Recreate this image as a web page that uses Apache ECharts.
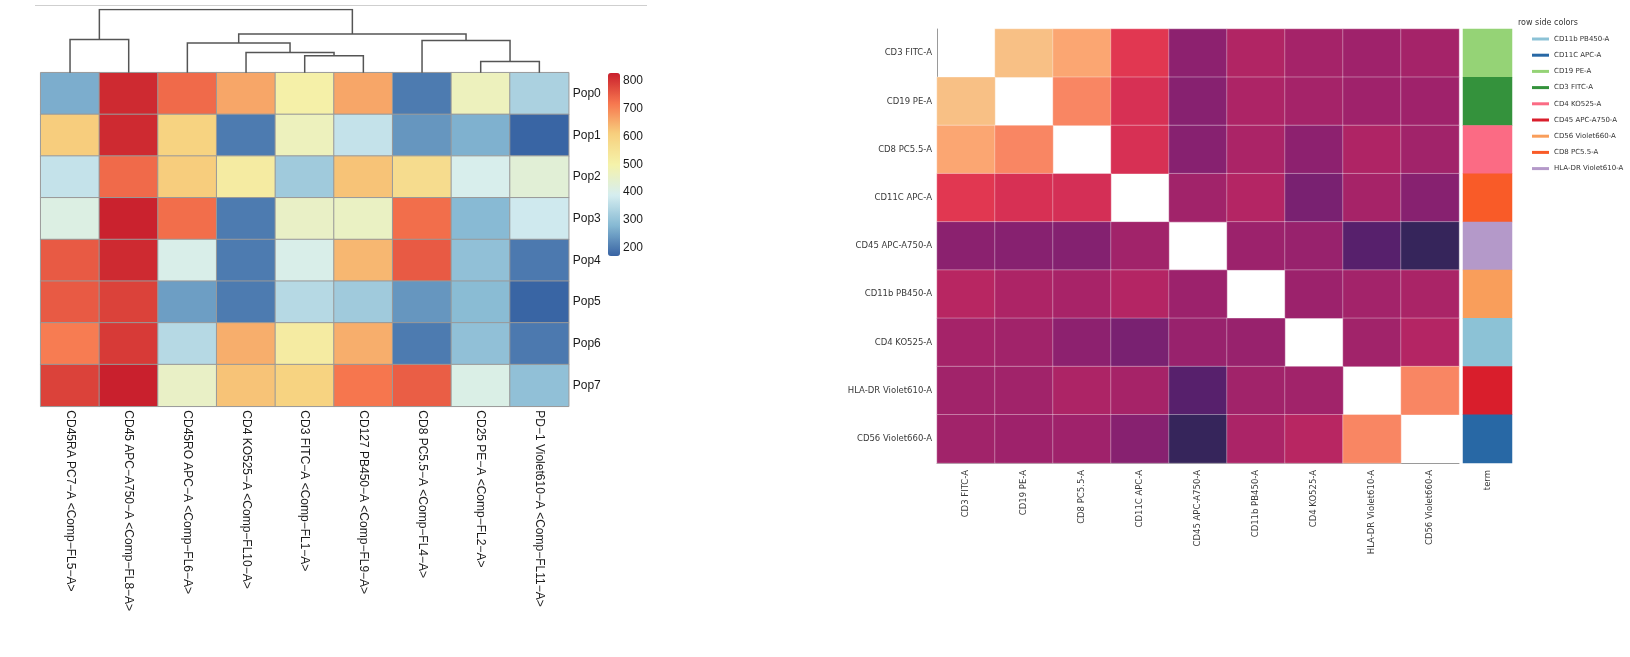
<!doctype html>
<html lang="en">
<head>
    <meta charset="UTF-8">
    <script src="https://cdn.jsdelivr.net/npm/echarts@6.0.0/dist/echarts.min.js"></script>
    <title>Marker heatmaps</title>
    <style>
        body { margin: 0; background: #fff; }
    </style>
</head>
<body>
<div id="main" style="width: 1630px;height:657px;"></div>
</body>
<script>
    // left: clustered marker expression per population
    var markers = ['CD45RA PC7−A <Comp−FL5−A>', 'CD45 APC−A750−A <Comp−FL8−A>', 'CD45RO APC−A <Comp−FL6−A>',
        'CD4 KO525−A <Comp−FL10−A>', 'CD3 FITC−A <Comp−FL1−A>', 'CD127 PB450−A <Comp−FL9−A>',
        'CD8 PC5.5−A <Comp−FL4−A>', 'CD25 PE−A <Comp−FL2−A>', 'PD−1 Violet610−A <Comp−FL11−A>'];
    var pops = ['Pop0', 'Pop1', 'Pop2', 'Pop3', 'Pop4', 'Pop5', 'Pop6', 'Pop7'];
    var popValues = [
        [265, 815, 735, 660, 505, 660, 200, 470, 330],
        [612, 815, 600, 200, 470, 365, 235, 270, 172],
        [365, 735, 612, 520, 315, 625, 570, 395, 430],
        [410, 825, 730, 200, 455, 460, 730, 282, 380],
        [755, 815, 400, 200, 400, 640, 755, 295, 198],
        [755, 785, 245, 200, 345, 315, 235, 285, 172],
        [712, 795, 345, 650, 520, 650, 200, 295, 198],
        [785, 828, 455, 625, 600, 720, 750, 405, 295]
    ];
    var colorTicks = [200, 300, 400, 500, 600, 700, 800];
    // column dendrogram: [child a, child b, height], new nodes numbered from 9
    var linkage = [
        [4, 5, 0.27],
        [7, 8, 0.177],
        [3, 9, 0.32],
        [2, 11, 0.47],
        [0, 1, 0.525],
        [6, 10, 0.51],
        [12, 14, 0.612],
        [13, 15, 1.0]
    ];

    // right: marker correlation with row side colours
    var corrMarkers = ['CD3 FITC-A', 'CD19 PE-A', 'CD8 PC5.5-A', 'CD11C APC-A', 'CD45 APC-A750-A',
        'CD11b PB450-A', 'CD4 KO525-A', 'HLA-DR Violet610-A', 'CD56 Violet660-A'];
    var corrValues = [
        [null, 0.98, 0.93, 0.71, 0.33, 0.52, 0.45, 0.42, 0.45],
        [0.98, null, 0.87, 0.67, 0.30, 0.50, 0.45, 0.42, 0.42],
        [0.93, 0.87, null, 0.67, 0.30, 0.49, 0.33, 0.51, 0.43],
        [0.71, 0.67, 0.66, null, 0.43, 0.53, 0.25, 0.46, 0.30],
        [0.32, 0.30, 0.29, 0.43, null, 0.40, 0.38, 0.14, 0.03],
        [0.55, 0.50, 0.47, 0.53, 0.40, null, 0.40, 0.44, 0.48],
        [0.45, 0.43, 0.33, 0.25, 0.38, 0.38, null, 0.43, 0.53],
        [0.43, 0.43, 0.50, 0.46, 0.14, 0.43, 0.43, null, 0.87],
        [0.43, 0.41, 0.42, 0.30, 0.03, 0.49, 0.55, 0.87, null]
    ];
    var termNames = ['CD11b PB450-A', 'CD11C APC-A', 'CD19 PE-A', 'CD3 FITC-A', 'CD4 KO525-A',
        'CD45 APC-A750-A', 'CD56 Violet660-A', 'CD8 PC5.5-A', 'HLA-DR Violet610-A'];
    var termColors = ['#8cc2d6', '#2868a5', '#95d376', '#34923c', '#fb6b84',
        '#d91e2c', '#f99e5b', '#f95b28', '#b499c9'];
    var rowTerms = [2, 3, 4, 7, 8, 6, 0, 5, 1];

    var myChart = echarts.init(document.getElementById('main'));

    var leftData = [];
    for (var i = 0; i < pops.length; i++) {
        for (var j = 0; j < markers.length; j++) {
            leftData.push([j, i, popValues[i][j]]);
        }
    }

    // dendrogram as polylines in its own grid
    var nodeX = [], nodeH = [], dendroLines = [];
    for (var k = 0; k < markers.length; k++) {
        nodeX.push(k);
        nodeH.push(0);
    }
    linkage.forEach(function (l) {
        var a = l[0], b = l[1], h = l[2];
        dendroLines.push({coords: [[nodeX[a], nodeH[a]], [nodeX[a], h], [nodeX[b], h], [nodeX[b], nodeH[b]]]});
        nodeX.push((nodeX[a] + nodeX[b]) / 2);
        nodeH.push(h);
    });

    var corrData = [];
    for (var r = 0; r < corrMarkers.length; r++) {
        for (var c = 0; c < corrMarkers.length; c++) {
            corrData.push([c, r, corrValues[r][c] === null ? '-' : corrValues[r][c]]);
        }
    }
    var termData = rowTerms.map(function (t, idx) { return [0, idx, t]; });

    var leftFont = 'Liberation Sans, Arial, sans-serif';
    var rightFont = 'DejaVu Sans, sans-serif';

    var option = {
        animation: false,
        title: {
            text: 'row side colors',
            left: 1518, top: 19, padding: 0,
            textStyle: {fontSize: 8, fontWeight: 'normal', color: '#333', fontFamily: rightFont}
        },
        graphic: [{
            type: 'line',
            shape: {x1: 35, y1: 5.5, x2: 647, y2: 5.5},
            style: {stroke: '#cfcfcf', lineWidth: 1}
        }],
        grid: [
            {left: 40.7, top: 72.7, width: 528, height: 333.6},
            {left: 40.7, top: 9.5, width: 528, height: 63.2},
            {left: 937, top: 29, width: 522, height: 434},
            {left: 1463, top: 29, width: 49, height: 434},
            {left: 608, top: 73, width: 12, height: 183}
        ],
        xAxis: [
            {
                type: 'category', gridIndex: 0, data: markers,
                axisLine: {show: false}, axisTick: {show: false},
                axisLabel: {rotate: -90, margin: 4, fontSize: 12, color: '#1a1a1a', fontFamily: leftFont, interval: 0}
            },
            {type: 'value', gridIndex: 1, min: -0.5, max: 8.5, show: false},
            {
                type: 'category', gridIndex: 2, data: corrMarkers,
                axisLine: {lineStyle: {color: '#9a9a9a'}},
                axisTick: {alignWithLabel: true, length: 3, lineStyle: {color: '#9a9a9a'}},
                axisLabel: {rotate: 90, margin: 7, fontSize: 8.5, color: '#3a3a3a', fontFamily: rightFont, interval: 0}
            },
            {
                type: 'category', gridIndex: 3, data: ['term'],
                axisLine: {show: false}, axisTick: {show: false},
                axisLabel: {rotate: 90, margin: 7, fontSize: 8.5, color: '#3a3a3a', fontFamily: rightFont}
            },
            {type: 'category', gridIndex: 4, data: ['bar'], show: false}
        ],
        yAxis: [
            {
                type: 'category', gridIndex: 0, data: pops, inverse: true, position: 'right',
                axisLine: {show: false}, axisTick: {show: false},
                axisLabel: {margin: 4, fontSize: 12, color: '#1a1a1a', fontFamily: leftFont}
            },
            {type: 'value', gridIndex: 1, min: 0, max: 1, show: false},
            {
                type: 'category', gridIndex: 2, data: corrMarkers, inverse: true,
                axisLine: {lineStyle: {color: '#9a9a9a'}},
                axisTick: {alignWithLabel: true, length: 3, lineStyle: {color: '#9a9a9a'}},
                axisLabel: {margin: 5, fontSize: 8.5, color: '#3a3a3a', fontFamily: rightFont}
            },
            {type: 'category', gridIndex: 3, data: corrMarkers, inverse: true, show: false},
            {
                type: 'value', gridIndex: 4, min: 170, max: 828, position: 'right',
                axisLine: {show: false}, axisTick: {show: false}, splitLine: {show: false},
                axisLabel: {customValues: colorTicks, margin: 3, fontSize: 12, color: '#1a1a1a', fontFamily: leftFont}
            }
        ],
        visualMap: [
            {
                type: 'continuous', seriesIndex: 0, min: 170, max: 828,
                calculable: false, hoverLink: false, padding: 0,
                left: 608, top: 73, itemWidth: 12, itemHeight: 183,
                inRange: {color: ['#3863a3', '#86b9d3', '#d6eef0', '#f5f2aa', '#f7d07e', '#f7774f', '#c9202d']}
            },
            {
                type: 'continuous', seriesIndex: 1, min: 0, max: 1, show: false,
                inRange: {color: ['#2d2756', '#4b2068', '#6a2071', '#872170', '#9c226c', '#ad2466',
                    '#c3285e', '#df3350', '#f0605a', '#fd9667', '#f7cb8c']}
            },
            {
                type: 'piecewise', seriesIndex: 2, inverse: true, selectedMode: false, hoverLink: false,
                left: 1532, top: 35.5, padding: 0, align: 'left',
                itemWidth: 17, itemHeight: 3, itemGap: 9.2, itemSymbol: 'rect', textGap: 5,
                textStyle: {fontSize: 7, color: '#333', fontFamily: rightFont},
                pieces: termNames.map(function (n, idx) {
                    return {value: idx, label: n, color: termColors[idx]};
                })
            }
        ],
        series: [
            {
                name: 'expression', type: 'heatmap', xAxisIndex: 0, yAxisIndex: 0,
                data: leftData,
                itemStyle: {borderColor: '#999', borderWidth: 1},
                emphasis: {disabled: true}
            },
            {
                name: 'correlation', type: 'heatmap', xAxisIndex: 2, yAxisIndex: 2,
                data: corrData,
                itemStyle: {borderColor: 'rgba(255,255,255,0.35)', borderWidth: 1},
                emphasis: {disabled: true}
            },
            {
                name: 'term', type: 'heatmap', xAxisIndex: 3, yAxisIndex: 3,
                data: termData,
                emphasis: {disabled: true}
            },
            {
                name: 'dendrogram', type: 'lines', coordinateSystem: 'cartesian2d',
                xAxisIndex: 1, yAxisIndex: 1, polyline: true, silent: true,
                lineStyle: {color: '#555', width: 1.5, opacity: 1},
                data: dendroLines
            }
        ]
    };

    myChart.setOption(option);
</script>
</html>
